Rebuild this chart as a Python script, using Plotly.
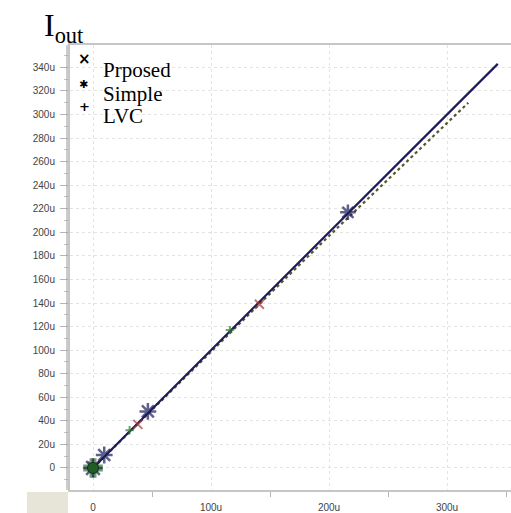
import plotly.graph_objects as go

# ---- data (values in micro-amps) ----
ideal_x = [0, 100, 200, 300, 343]
ideal_y = [0, 100, 200, 300, 343]

lvc_trace_x = [0, 50, 100, 150, 200, 250, 300, 318]
lvc_trace_y = [0, 49.5, 98.8, 148, 197, 245, 293, 310]

simple_x = [0, 9.5, 46.5, 216]
simple_y = [0, 11, 48, 217]

lvc_x = [0, 31, 116]
lvc_y = [0, 32, 117]

proposed_x = [0, 38, 141]
proposed_y = [1, 37, 139]

y_ticks = list(range(0, 341, 20))
y_labels = ["0" if v == 0 else f"{v}u" for v in y_ticks]
x_ticks = [0, 100, 200, 300]
x_labels = ["0", "100u", "200u", "300u"]
legend_names = ["Prposed", "Simple", "LVC"]

W, H = 511, 513
ML, MR, MT, MB = 70, 0, 45, 23
PW, PH = W - ML - MR, H - MT - MB


def px(xp):
    return (xp - ML) / PW


def py(yp):
    return 1 - (yp - MT) / PH


fig = go.Figure()

# dotted LVC response
fig.add_trace(go.Scatter(
    x=lvc_trace_x, y=lvc_trace_y, mode="lines",
    line=dict(color="#57562c", width=2.2, dash="dot"),
    showlegend=False, hoverinfo="skip"))

# main response line
fig.add_trace(go.Scatter(
    x=ideal_x, y=ideal_y, mode="lines",
    line=dict(color="#1c1c5c", width=2.2),
    showlegend=False, hoverinfo="skip"))

# LVC points
fig.add_trace(go.Scatter(
    x=lvc_x, y=lvc_y, mode="markers",
    marker=dict(symbol="cross-thin-open", size=[14, 6, 6], color="#2f7a2f",
                line=dict(color="#2f7a2f", width=[7, 2, 2])),
    showlegend=False, hoverinfo="skip"))

# Proposed points
fig.add_trace(go.Scatter(
    x=proposed_x, y=proposed_y, mode="markers",
    marker=dict(symbol="x-thin-open", size=[10, 9, 9], color="#a33a3a",
                line=dict(color="#a33a3a", width=2)),
    showlegend=False, hoverinfo="skip"))

# Simple points
fig.add_trace(go.Scatter(
    x=simple_x, y=simple_y, mode="markers",
    marker=dict(symbol="asterisk-open", size=[16, 14, 14, 13], color="#1c1c5c",
                line=dict(color="#1c1c5c", width=2.5)),
    showlegend=False, hoverinfo="skip"))

# green core at origin
fig.add_trace(go.Scatter(
    x=lvc_x[:1], y=lvc_y[:1], mode="markers",
    marker=dict(symbol="circle", size=11, color="#1f5e25",
                line=dict(color="#14301a", width=1)),
    showlegend=False, hoverinfo="skip"))

annotations = [
    dict(text="I<sub>out</sub>", x=px(42), y=py(5), xref="paper", yref="paper",
         xanchor="left", yanchor="top", showarrow=False,
         font=dict(family="Liberation Serif", size=32, color="black")),
]

legend_text_y = [70, 94, 116]
for name, yy in zip(legend_names, legend_text_y):
    annotations.append(dict(text=name, x=px(101), y=py(yy), xref="paper", yref="paper",
                            xanchor="left", yanchor="middle", showarrow=False,
                            font=dict(family="Liberation Serif", size=21, color="black")))

legend_glyphs = [("×", 84, 59, 15), ("✱", 83, 84, 11), ("+", 84, 107, 13)]
for g, gx, gy, gs in legend_glyphs:
    annotations.append(dict(text=f"<b>{g}</b>", x=px(gx), y=py(gy), xref="paper", yref="paper",
                            xanchor="center", yanchor="middle", showarrow=False,
                            font=dict(family="DejaVu Sans", size=gs, color="black")))

shapes = [
    # beige corner block under the y axis
    dict(type="rect", xref="paper", yref="paper",
         x0=px(27), x1=px(68), y0=py(513), y1=py(492),
         fillcolor="#e7e5d7", line=dict(width=0), layer="below"),
    # outer border line of the left axis
    dict(type="line", xref="paper", yref="paper",
         x0=px(67), x1=px(67), y0=py(490), y1=py(45),
         line=dict(color="#9a9a9a", width=1)),
]

fig.update_layout(
    width=W, height=H, autosize=False,
    margin=dict(l=ML, r=MR, t=MT, b=MB),
    paper_bgcolor="white", plot_bgcolor="white",
    annotations=annotations, shapes=shapes,
    showlegend=False,
)

fig.update_xaxes(
    range=[-19.5, 354.2], tickvals=x_ticks, ticktext=x_labels,
    showgrid=True, gridcolor="#e3e3e3", griddash="3px,3px", gridwidth=1,
    zeroline=False, showline=True, linecolor="#c6c6c6", linewidth=1.5, mirror=True,
    ticks="outside", ticklen=7, tickcolor="rgba(0,0,0,0)",
    minor=dict(tickvals=[50, 150, 250, 350], ticks="outside", ticklen=5,
               tickcolor="#b5b5b5", showgrid=False),
    tickfont=dict(family="Liberation Sans", size=10, color="#444444"),
)

fig.update_yaxes(
    range=[-18.7, 359], tickvals=y_ticks, ticktext=y_labels,
    showgrid=True, gridcolor="#e3e3e3", griddash="3px,3px", gridwidth=1,
    zeroline=False, showline=True, linecolor="#c6c6c6", linewidth=2,
    ticks="outside", ticklen=8, tickcolor="#b5b5b5",
    minor=dict(dtick=10, ticks="outside", ticklen=4, tickcolor="#c5c5c5", showgrid=False),
    tickfont=dict(family="Liberation Sans", size=10, color="#444444"),
    ticklabelstandoff=3,
)

fig.write_html("out.html")
